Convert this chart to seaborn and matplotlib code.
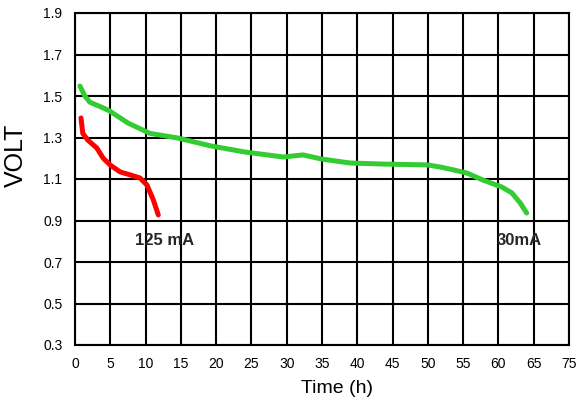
import matplotlib
matplotlib.use("Agg")
import matplotlib.pyplot as plt
import seaborn as sns
import pandas as pd
import numpy as np

# --- data ---
green_time = [0.7, 1.4, 2.1, 3.5, 4.8, 7.5, 10.6, 14.5, 19.3, 24.1, 29.5, 32.3, 35.0,
              39.0, 43.7, 49.9, 51.7, 53.1, 55.5, 57.8, 60.5, 61.9, 63.1, 64.0]
green_volt = [1.548, 1.50, 1.47, 1.45, 1.43, 1.37, 1.32, 1.298, 1.259, 1.23, 1.206,
              1.216, 1.196, 1.177, 1.172, 1.168, 1.158, 1.148, 1.129, 1.095, 1.061,
              1.033, 0.984, 0.936]
red_time = [0.85, 1.1, 1.8, 3.1, 4.0, 5.0, 6.4, 7.8, 9.2, 10.2, 11.1, 11.8]
red_volt = [1.394, 1.32, 1.288, 1.249, 1.2, 1.167, 1.134, 1.12, 1.105, 1.071, 0.999, 0.927]

x_ticks = [0, 5, 10, 15, 20, 25, 30, 35, 40, 45, 50, 55, 60, 65, 70]
x_ticklabels = ["0", "5", "10", "15", "20", "25", "30", "35", "40", "45", "50",
                "55", "60", "65", "75"]
y_ticks = [0.3, 0.5, 0.7, 0.9, 1.1, 1.3, 1.5, 1.7, 1.9]
y_ticklabels = ["0.3", "0.5", "0.7", "0.9", "1.1", "1.3", "1.5", "1.7", "1.9"]
series_names = ["30mA", "125 mA"]

df = pd.concat([
    pd.DataFrame({"Time": green_time, "Volt": green_volt, "series": series_names[0]}),
    pd.DataFrame({"Time": red_time, "Volt": red_volt, "series": series_names[1]}),
])

sns.set_theme(style="white")
plt.rcParams["font.family"] = ["Liberation Sans", "DejaVu Sans"]

fig = plt.figure(figsize=(5.76, 4.03), dpi=100)
ax = fig.add_axes([75/576, 1-345/403, (569-75)/576, (345-13)/403])

sns.lineplot(data=df, x="Time", y="Volt", hue="series",
             palette={series_names[0]: "#33cc33", series_names[1]: "#ff0000"},
             linewidth=3.6, legend=False, ax=ax, sort=False, estimator=None)

ax.set_xlim(0, 70)
ax.set_ylim(0.3, 1.9)
ax.set_xticks(x_ticks)
ax.set_xticklabels(x_ticklabels, fontsize=10)
ax.set_yticks(y_ticks)
ax.set_yticklabels(y_ticklabels, fontsize=10)
ax.tick_params(axis="both", length=0, pad=9, colors="black")
ax.grid(True, color="black", linewidth=1.5)
ax.set_axisbelow(True)
for s in ax.spines.values():
    s.set_visible(True)
    s.set_color("black")
    s.set_linewidth(1.5)

ax.set_xlabel("Time (h)", fontsize=14, color="black")
ax.xaxis.set_label_coords(0.53, -0.105)
ax.set_ylabel("VOLT", fontsize=18, color="black")
ax.yaxis.set_label_coords(-0.095, 0.57)

ax.text(8.5, 0.806, "125 mA", fontsize=12, fontweight="bold", va="center", ha="left")
ax.text(59.8, 0.806, "30mA", fontsize=12, fontweight="bold", va="center", ha="left")

fig.savefig("out.png", dpi=100)
